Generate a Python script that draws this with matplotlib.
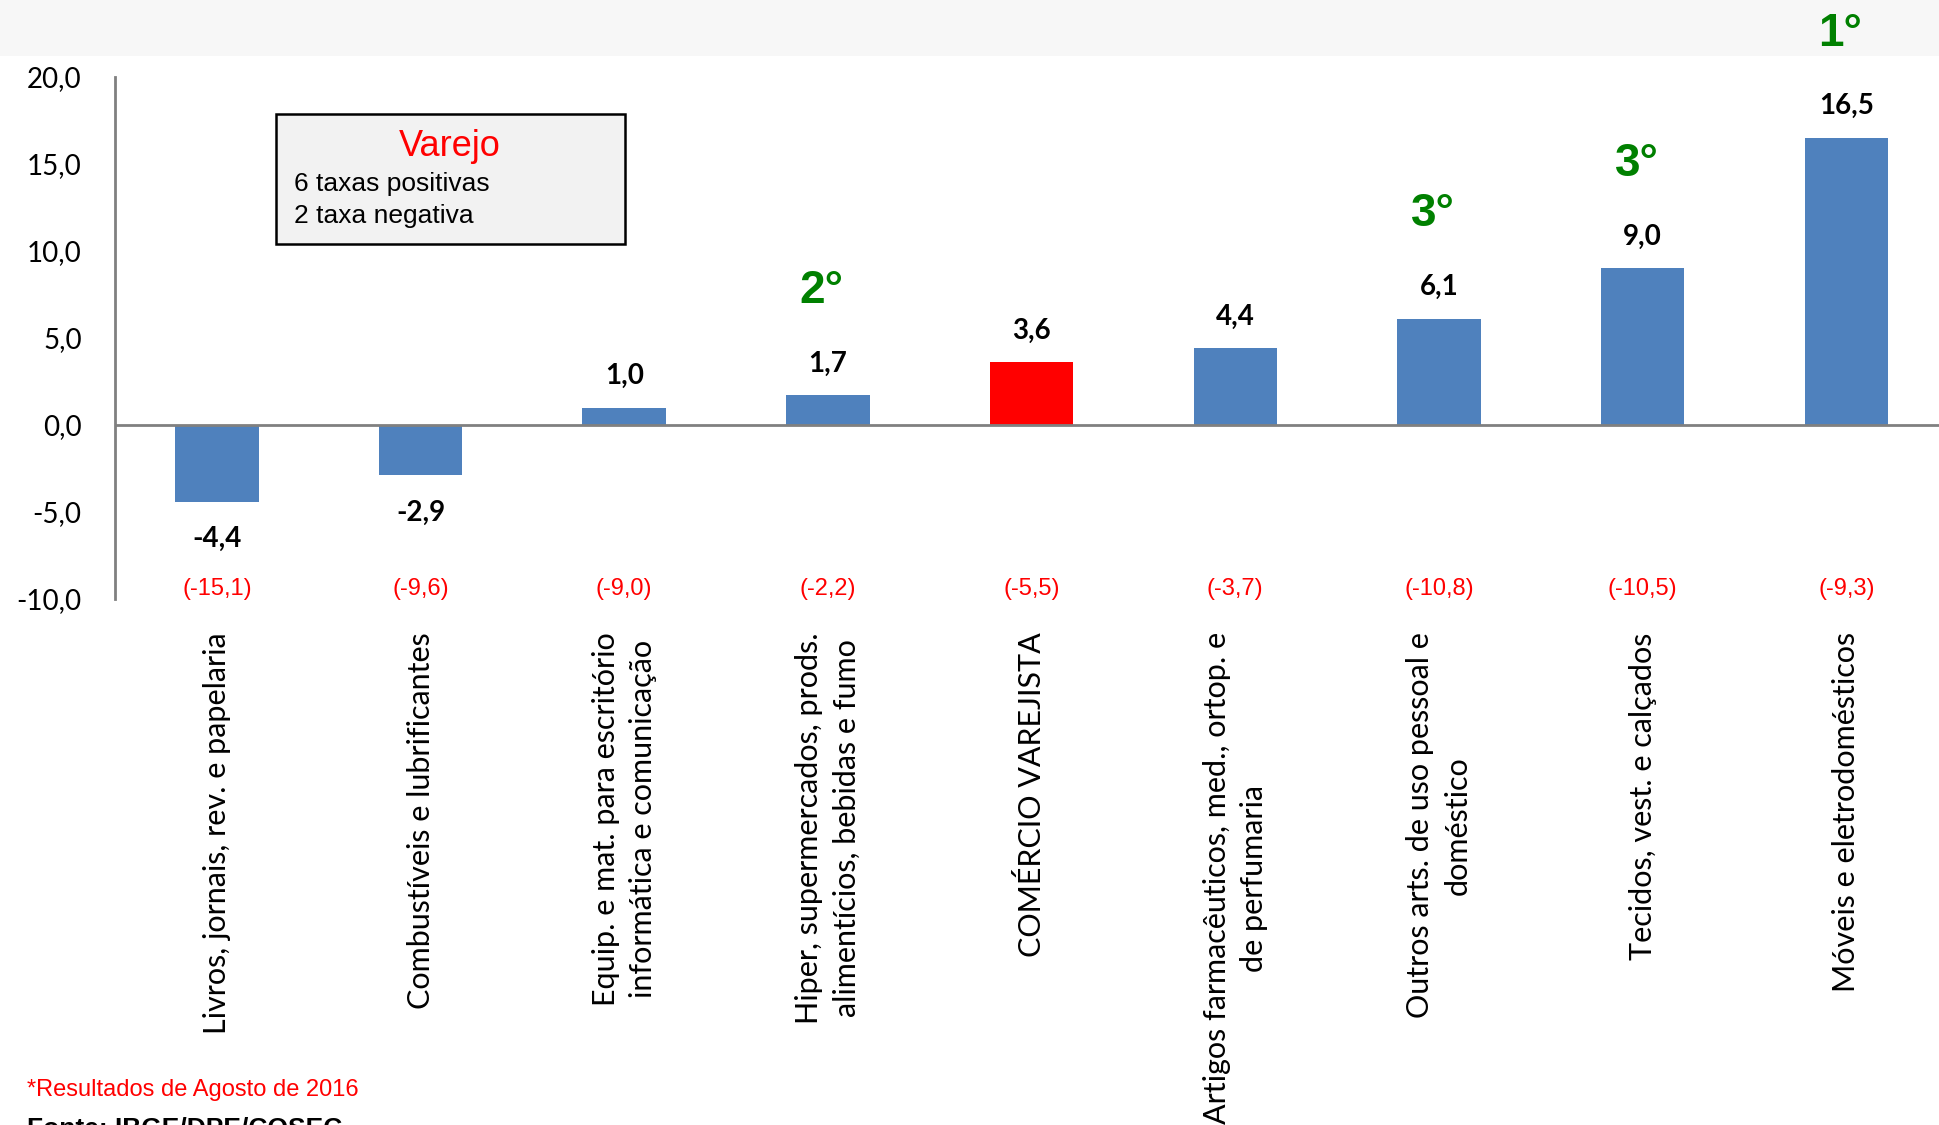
import matplotlib.pyplot as plt
from matplotlib.patches import Rectangle
from matplotlib.ticker import FuncFormatter

# dados
categorias = [
    "Livros, jornais, rev. e papelaria",
    "Combustíveis e lubrificantes",
    "Equip. e mat. para escritório\ninformática e comunicação",
    "Hiper, supermercados, prods.\nalimentícios, bebidas e fumo",
    "COMÉRCIO VAREJISTA",
    "Artigos farmacêuticos, med., ortop. e\nde perfumaria",
    "Outros arts. de uso pessoal e\ndoméstico",
    "Tecidos, vest. e calçados",
    "Móveis e eletrodomésticos",
]
variacao = [-4.4, -2.9, 1.0, 1.7, 3.6, 4.4, 6.1, 9.0, 16.5]
acumulado = ["(-15,1)", "(-9,6)", "(-9,0)", "(-2,2)", "(-5,5)",
             "(-3,7)", "(-10,8)", "(-10,5)", "(-9,3)"]
ranking = ["", "", "", "2°", "", "", "3°", "3°", "1°"]
destaque = "COMÉRCIO VAREJISTA"

AZUL = "#4F81BD"
VERMELHO = "#FF0000"
VERDE = "#008000"
CINZA = "#808080"
ARIAL = "Liberation Sans"
CALIBRI = "Lato"


def virgula(v):
    return ("%.1f" % v).replace(".", ",")


fig = plt.figure(figsize=(19.4, 11.25), dpi=100)
fig.patches.append(Rectangle((0, 1 - 56 / 1125), 1, 56 / 1125, transform=fig.transFigure,
                             facecolor="#f7f7f7", edgecolor="none", zorder=-10))

ax = fig.add_axes([115 / 1940, 1 - 599 / 1125, 1 - 115 / 1940, (599 - 77) / 1125])
ax.patch.set_alpha(0)

x = list(range(len(categorias)))
cores = [VERMELHO if c == destaque else AZUL for c in categorias]
ax.bar(x, variacao, width=0.41, color=cores, zorder=2)
ax.axhline(0, color=CINZA, lw=2, zorder=3)

ax.set_xlim(-0.5, 8.46)
ax.set_ylim(-10, 20)
ax.set_yticks([-10, -5, 0, 5, 10, 15, 20])
ax.yaxis.set_major_formatter(FuncFormatter(lambda v, p: virgula(v)))
for s in ["top", "right", "bottom"]:
    ax.spines[s].set_visible(False)
ax.spines["left"].set_color(CINZA)
ax.spines["left"].set_linewidth(2)
ax.tick_params(axis="y", length=0, pad=24, labelsize=20)
ax.tick_params(axis="x", length=0, pad=24)
ax.set_xticks(x)
ax.set_xticklabels(categorias, rotation=90, fontsize=22, fontfamily=CALIBRI,
                   va="top", ha="center", multialignment="center", linespacing=1.4)
for t in ax.get_yticklabels():
    t.set_fontfamily(CALIBRI)

for xi, v, ac, rk in zip(x, variacao, acumulado, ranking):
    if v >= 0:
        ax.annotate(virgula(v), (xi, v), xytext=(0, 23), textcoords="offset points",
                    ha="center", va="center", fontsize=20, fontweight="bold",
                    fontfamily=CALIBRI)
    else:
        ax.annotate(virgula(v), (xi, v), xytext=(0, -27), textcoords="offset points",
                    ha="center", va="center", fontsize=20, fontweight="bold",
                    fontfamily=CALIBRI)
    ax.text(xi, -9.45, ac, ha="center", va="center", color=VERMELHO,
            fontsize=17, fontfamily=ARIAL)
    if rk:
        ax.text(xi - 0.03, max(v, 0) + 6.0, rk, ha="center", va="center", color=VERDE,
                fontsize=33, fontweight="bold", fontfamily=ARIAL, clip_on=False)

# caixa Varejo
fig.patches.append(Rectangle((276 / 1940, 1 - 244 / 1125), (625 - 276) / 1940, (244 - 114) / 1125,
                             transform=fig.transFigure, facecolor="#f2f2f2",
                             edgecolor="black", lw=1.8, zorder=5))
fig.text(450 / 1940, 1 - 146 / 1125, "Varejo", color=VERMELHO, fontsize=26,
         fontfamily=ARIAL, ha="center", va="center", zorder=6)
fig.text(294 / 1940, 1 - 184 / 1125, "6 taxas positivas", fontsize=19,
         fontfamily=ARIAL, ha="left", va="center", zorder=6)
fig.text(294 / 1940, 1 - 216 / 1125, "2 taxa negativa", fontsize=19,
         fontfamily=ARIAL, ha="left", va="center", zorder=6)

fig.text(27 / 1940, 1 - 1090 / 1125, "*Resultados de Agosto de 2016", color=VERMELHO,
         fontsize=17, fontfamily=ARIAL, ha="left", va="center")
fig.text(27 / 1940, 1 - 1116 / 1125, "Fonte: IBGE/DPE/COSEC", fontsize=19,
         fontweight="bold", fontfamily=ARIAL, ha="left", va="top")

fig.savefig("out.png", dpi=100)
